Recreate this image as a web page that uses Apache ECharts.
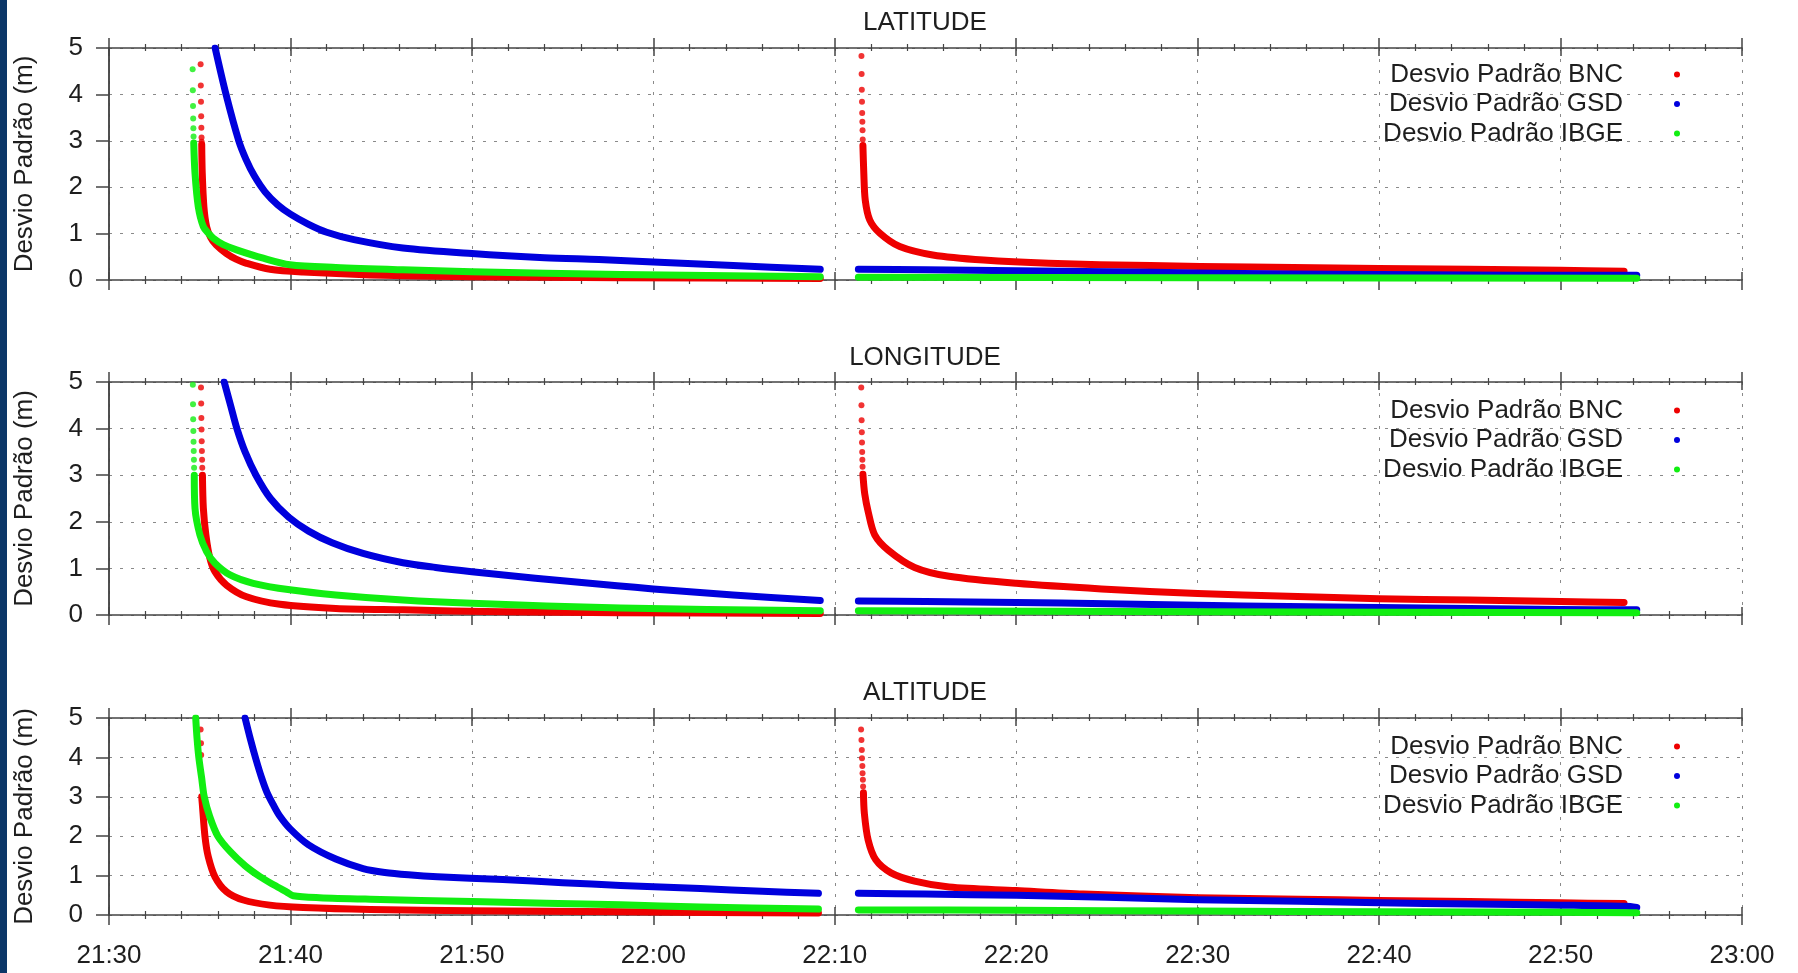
<!DOCTYPE html>
<html><head><meta charset="utf-8">
<script src="https://cdn.jsdelivr.net/npm/echarts@6/dist/echarts.min.js"></script>
<style>html,body{margin:0;padding:0;background:#fff}#c{width:1798px;height:973px}</style>
</head><body><div id="c"></div>
<script>
// x = minutes after 21:30, y = standard deviation (m)
const tickLabels = ['21:30','21:40','21:50','22:00','22:10','22:20','22:30','22:40','22:50','23:00'];
const panelTitles = ['LATITUDE','LONGITUDE','ALTITUDE'];
const seriesNames = ['Desvio Padrão BNC','Desvio Padrão GSD','Desvio Padrão IBGE'];

// LATITUDE
const LAT_BNC_DOTS = [[5.05,4.65],[5.06,4.19],[5.07,3.84],[5.08,3.53],[5.09,3.28],[5.10,3.07],[5.105,2.98],
  [41.47,4.83],[41.48,4.44],[41.49,4.10],[41.50,3.84],[41.51,3.60],[41.52,3.41],[41.53,3.23],[41.54,3.03]];
const LAT_BNC_1 = [[5.11,2.92],[5.14,2.3],[5.23,1.58],[5.38,1.15],[5.6,0.92],[5.9,0.76],[6.48,0.57],[7.0,0.45],[7.58,0.36],[8.87,0.23],[10.7,0.17],[14.4,0.11],[19.9,0.07],[28.2,0.05],[39.2,0.03]];
const LAT_BNC_2 = [[41.55,2.9],[41.6,2.3],[41.68,1.72],[41.93,1.29],[42.48,1.01],[43.58,0.72],[45.4,0.54],[48.2,0.43],[51.8,0.36],[57.4,0.31],[62.9,0.28],[70,0.25],[80,0.21],[83.5,0.19]];
const LAT_GSD_1 = [[5.85,5.0],[6.45,4.0],[7.15,3.0],[7.55,2.6],[8.0,2.25],[8.6,1.9],[9.3,1.62],[10,1.42],[11,1.2],[12,1.03],[13.5,0.87],[16.2,0.69],[20,0.57],[24,0.48],[27,0.44],[30,0.39],[34.4,0.31],[39.2,0.23]];
const LAT_GSD_2 = [[41.3,0.23],[45,0.22],[50,0.2],[55,0.18],[60,0.15],[65,0.13],[70,0.12],[75,0.11],[80,0.1],[84.2,0.1]];
const LAT_IBGE_DOTS = [[4.61,4.54],[4.62,4.09],[4.63,3.75],[4.64,3.48],[4.65,3.27],[4.66,3.09]];
const LAT_IBGE_1 = [[4.67,2.95],[4.74,2.3],[4.92,1.58],[5.2,1.15],[5.5,1.0],[5.75,0.9],[6.3,0.76],[7.03,0.65],[8.5,0.47],[9.97,0.33],[12.5,0.27],[16.2,0.22],[20,0.18],[28.2,0.12],[39.2,0.07]];
const LAT_IBGE_2 = [[41.3,0.06],[60,0.05],[84.2,0.04]];

// LONGITUDE
const LON_BNC_DOTS = [[5.07,4.88],[5.08,4.54],[5.09,4.23],[5.10,3.98],[5.11,3.73],[5.12,3.52],[5.13,3.33],[5.14,3.16],
  [41.46,4.88],[41.47,4.5],[41.48,4.18],[41.49,3.92],[41.5,3.7],[41.51,3.5],[41.52,3.33],[41.53,3.18]];
const LON_BNC_1 = [[5.15,3.0],[5.2,2.29],[5.34,1.72],[5.56,1.22],[5.84,0.93],[6.48,0.64],[7.58,0.39],[9.42,0.23],[12.5,0.14],[16.2,0.11],[21.7,0.07],[28.2,0.05],[39.2,0.03]];
const LON_BNC_2 = [[41.55,3.02],[41.65,2.6],[41.85,2.2],[42.2,1.72],[42.95,1.39],[44.4,1.02],[46.3,0.83],[50,0.68],[54.7,0.56],[60,0.46],[65,0.4],[70,0.35],[75,0.32],[80,0.29],[83.5,0.27]];
const LON_GSD_1 = [[6.35,5.0],[6.7,4.5],[7.05,4.0],[7.5,3.5],[8.1,3.0],[8.9,2.5],[9.9,2.1],[11,1.8],[12.3,1.55],[14,1.32],[16.2,1.12],[18,1.02],[20,0.93],[23.5,0.79],[28,0.63],[30,0.56],[34.4,0.43],[39.2,0.31]];
const LON_GSD_2 = [[41.3,0.3],[45,0.29],[50,0.27],[55,0.24],[60,0.21],[65,0.18],[70,0.16],[75,0.14],[80,0.12],[84.2,0.11]];
const LON_IBGE_DOTS = [[4.62,4.94],[4.63,4.52],[4.64,4.2],[4.65,3.95],[4.66,3.72],[4.67,3.52],[4.68,3.33],[4.69,3.16]];
const LON_IBGE_1 = [[4.7,3.0],[4.74,2.29],[5.01,1.72],[5.38,1.36],[5.84,1.11],[6.67,0.86],[7.95,0.68],[9.97,0.54],[12.5,0.43],[16.2,0.32],[20,0.25],[28.2,0.15],[39.2,0.09]];
const LON_IBGE_2 = [[41.3,0.09],[60,0.07],[84.2,0.05]];

// ALTITUDE
const ALT_BNC_DOTS = [[5.05,4.71],[5.07,4.36],[5.08,4.06],
  [41.45,4.71],[41.47,4.44],[41.49,4.19],[41.5,3.98],[41.52,3.78],[41.53,3.6],[41.55,3.43],[41.56,3.26]];
const ALT_BNC_1 = [[5.11,3.0],[5.14,2.83],[5.29,1.99],[5.47,1.48],[5.84,0.97],[6.48,0.59],[7.4,0.38],[8.87,0.25],[10.7,0.19],[14.4,0.14],[20,0.11],[28.2,0.08],[39.1,0.05]];
const ALT_BNC_2 = [[41.58,3.1],[41.63,2.58],[41.84,1.9],[42.26,1.4],[43.1,1.07],[44.4,0.86],[46.3,0.71],[50,0.62],[53.7,0.53],[60,0.44],[65.6,0.4],[70,0.37],[75,0.34],[80,0.31],[83.5,0.29]];
const ALT_GSD_1 = [[7.5,5.0],[7.8,4.45],[8.1,3.95],[8.4,3.5],[8.7,3.12],[9.05,2.8],[9.4,2.52],[10,2.18],[11,1.78],[12.5,1.42],[14,1.18],[15.2,1.08],[16.5,1.02],[18.1,0.97],[21.7,0.9],[25,0.82],[28.2,0.75],[32.6,0.67],[36,0.6],[39.1,0.55]];
const ALT_GSD_2 = [[41.3,0.55],[45,0.53],[50,0.5],[55,0.45],[60,0.39],[65.6,0.35],[70,0.31],[75,0.28],[80,0.25],[83.6,0.22],[84.2,0.19]];
const ALT_IBGE_DOTS = [];
const ALT_IBGE_1 = [[4.78,5.0],[4.85,4.5],[4.95,4.0],[5.1,3.5],[5.25,3.0],[5.55,2.5],[6.0,2.0],[6.7,1.6],[7.5,1.25],[8.3,0.98],[9.1,0.76],[9.8,0.58],[10.15,0.49],[11.6,0.44],[14.4,0.4],[20,0.34],[28.2,0.26],[32.6,0.2],[39.1,0.15]];
const ALT_IBGE_2 = [[41.3,0.13],[50,0.12],[60,0.1],[70,0.08],[80,0.07],[84.2,0.06]];

const panelData = [
  [[LAT_BNC_DOTS, LAT_BNC_1, LAT_BNC_2], [[], LAT_GSD_1, LAT_GSD_2], [LAT_IBGE_DOTS, LAT_IBGE_1, LAT_IBGE_2]],
  [[LON_BNC_DOTS, LON_BNC_1, LON_BNC_2], [[], LON_GSD_1, LON_GSD_2], [LON_IBGE_DOTS, LON_IBGE_1, LON_IBGE_2]],
  [[ALT_BNC_DOTS, ALT_BNC_1, ALT_BNC_2], [[], ALT_GSD_1, ALT_GSD_2], [ALT_IBGE_DOTS, ALT_IBGE_1, ALT_IBGE_2]]
];

const colors = ['#ee0000', '#0000dd', '#11ee11'];
const FONT = "'Liberation Sans', Arial, sans-serif";
const TXT = '#1e1e1e';
const AX = '#444';
const gridBoxes = [{top:48,height:232},{top:382,height:233},{top:718,height:197}];
const titleTops = [10, 345, 680];
const legendTops = [61.5, 397.5, 733.5];

const chart = echarts.init(document.getElementById('c'), null, {renderer:'canvas'});

const grid = gridBoxes.map(g => ({left:109, right:56, top:g.top, height:g.height, outerBoundsMode:'none', containLabel:false}));
const xAxis = [];
const yAxis = [];
const series = [];

gridBoxes.forEach((g, i) => {
  const base = {type:'value', gridIndex:i, min:0, max:90, interval:10};
  xAxis.push(Object.assign({}, base, {
    position:'bottom',
    axisLine:{show:true, lineStyle:{color:AX, width:1.5}},
    axisTick:{show:true, inside:false, length:10, lineStyle:{color:AX, width:1.5}},
    minorTick:{show:true, splitNumber:5, length:4, lineStyle:{color:AX, width:1.2}},
    splitLine:{show:true, lineStyle:{color:'#8a8a8a', width:1, type:[3,8]}},
    axisLabel:{show:i===2, fontSize:26, color:TXT, fontFamily:FONT, margin:28,
      formatter: v => tickLabels[Math.round(v/10)]}
  }));
  xAxis.push(Object.assign({}, base, {
    position:'bottom', axisLine:{show:false},
    axisTick:{show:true, inside:true, length:8, lineStyle:{color:AX, width:1.5}},
    minorTick:{show:true, splitNumber:5, length:4, lineStyle:{color:AX, width:1.2}},
    splitLine:{show:false}, axisLabel:{show:false}
  }));
  xAxis.push(Object.assign({}, base, {
    position:'top',
    axisLine:{show:true, lineStyle:{color:AX, width:1.5}},
    axisTick:{show:true, inside:false, length:10, lineStyle:{color:AX, width:1.5}},
    minorTick:{show:true, splitNumber:5, length:4, lineStyle:{color:AX, width:1.2}},
    splitLine:{show:false}, axisLabel:{show:false}
  }));
  xAxis.push(Object.assign({}, base, {
    position:'top', axisLine:{show:false},
    axisTick:{show:true, inside:true, length:8, lineStyle:{color:AX, width:1.5}},
    minorTick:{show:true, splitNumber:5, length:3, lineStyle:{color:AX, width:1.2}},
    splitLine:{show:false}, axisLabel:{show:false}
  }));
  yAxis.push({
    type:'value', gridIndex:i, min:0, max:5, interval:1, position:'left',
    name:'Desvio Padrão (m)', nameLocation:'middle', nameGap:71,
    nameTextStyle:{fontSize:26, color:TXT, fontFamily:FONT},
    axisLine:{show:true, lineStyle:{color:AX, width:1.5}},
    axisTick:{show:true, inside:false, length:13, lineStyle:{color:AX, width:1.5}},
    splitLine:{show:true, lineStyle:{color:'#8a8a8a', width:1, type:[3,8]}},
    axisLabel:{fontSize:26, color:TXT, fontFamily:FONT, margin:26}
  });
  yAxis.push({
    type:'value', gridIndex:i, min:0, max:5, interval:1, position:'right',
    axisLine:{show:true, lineStyle:{color:AX, width:1.5}},
    axisTick:{show:false}, axisLabel:{show:false}, splitLine:{show:false}
  });

  panelData[i].forEach((src, k) => {
    const [dots, seg1, seg2] = src;
    [seg1, seg2].forEach(seg => {
      series.push({
        type:'line', name:seriesNames[k], xAxisIndex:4*i, yAxisIndex:2*i,
        data:seg, showSymbol:false, symbol:'none', smooth:0.3,
        lineStyle:{color:colors[k], width:7, cap:'round', join:'round'},
        itemStyle:{color:colors[k]}, z:2+k, silent:true
      });
    });
    if (dots.length) {
      series.push({
        type:'scatter', name:seriesNames[k], xAxisIndex:4*i, yAxisIndex:2*i,
        data:dots, symbol:'circle', symbolSize:6,
        itemStyle:{color:colors[k]}, z:2+k, silent:true
      });
    }
  });
});

const option = {
  animation:false,
  backgroundColor:'#ffffff',
  graphic:[{type:'rect', left:0, top:0, shape:{width:7, height:973}, style:{fill:'#0b3768'}}],
  title: panelTitles.map((t, i) => ({
    text:t, left:925, top:titleTops[i], textAlign:'center', padding:0,
    textStyle:{fontSize:26, fontWeight:'normal', color:TXT, fontFamily:FONT}
  })),
  legend: legendTops.map(t => ({
    top:t, right:118, orient:'vertical', align:'right', itemGap:3.5,
    itemWidth:6, itemHeight:6, icon:'circle', selectedMode:false, padding:0,
    textStyle:{fontSize:26, lineHeight:26, color:TXT, fontFamily:FONT, padding:[0,46,0,0]},
    data: seriesNames
  })),
  grid, xAxis, yAxis, series
};
chart.setOption(option);
</script>
</body></html>
